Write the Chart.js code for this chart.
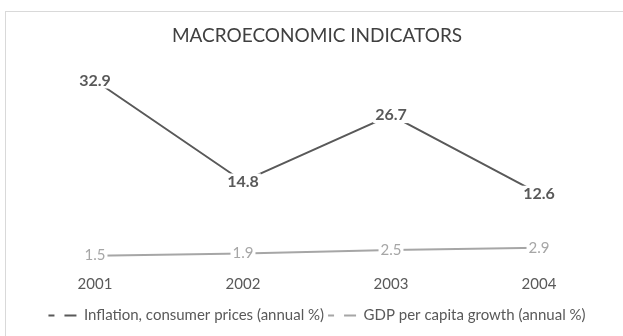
<!DOCTYPE html>
<html>
<head>
<meta charset="utf-8">
<title>Macroeconomic indicators</title>
<script src="https://cdn.jsdelivr.net/npm/chart.js@4/dist/chart.umd.min.js"></script>
<style>
    html, body { margin: 0; padding: 0; background: #fff; }
    #wrap { position: relative; width: 623px; height: 336px; }
</style>
</head>
<body>
<div id="wrap"><canvas id="macro-chart" width="623" height="336"></canvas></div>
<script>
const years = ['2001', '2002', '2003', '2004'];
const inflation = [32.9, 14.8, 26.7, 12.6];
const gdpGrowth = [1.5, 1.9, 2.5, 2.9];
const seriesNames = ['Inflation, consumer prices (annual %)', 'GDP per capita growth (annual %)'];

const FONT = 'Lato, "Open Sans", sans-serif';

// frame around the chart area, like the spreadsheet chart box
const framePlugin = {
    id: 'frame',
    beforeDraw: function (chart) {
        var ctx = chart.ctx;
        ctx.save();
        ctx.fillStyle = '#fff';
        ctx.fillRect(0, 0, chart.width, chart.height);
        ctx.strokeStyle = '#d9d9d9';
        ctx.lineWidth = 1;
        ctx.strokeRect(5.5, 11.5, chart.width + 20, chart.height + 20);
        ctx.restore();
    }
};

// value labels sitting on top of each point, on a white patch
const valueLabels = {
    id: 'valueLabels',
    afterDatasetsDraw: function (chart) {
        var ctx = chart.ctx;
        chart.data.datasets.forEach(function (ds, i) {
            var meta = chart.getDatasetMeta(i);
            ctx.save();
            ctx.font = ds.labelFont;
            ctx.textAlign = 'center';
            ctx.textBaseline = 'middle';
            meta.data.forEach(function (pt, j) {
                var text = ds.data[j].toFixed(1);
                var w = ctx.measureText(text).width;
                ctx.fillStyle = '#fff';
                ctx.fillRect(pt.x - w / 2 - 2, pt.y - 8, w + 4, 16);
                ctx.fillStyle = ds.labelColor;
                ctx.fillText(text, pt.x, pt.y);
            });
            ctx.restore();
        });
    }
};

function buildData() {
    return {
        labels: years,
        datasets: [{
            label: seriesNames[0],
            data: inflation,
            borderColor: '#595959',
            backgroundColor: '#595959',
            borderWidth: 2,
            pointRadius: 0,
            labelColor: '#595959',
            labelFont: 'bold 16px ' + FONT
        }, {
            label: seriesNames[1],
            data: gdpGrowth,
            borderColor: '#a6a6a6',
            backgroundColor: '#a6a6a6',
            borderWidth: 2,
            pointRadius: 0,
            labelColor: '#a6a6a6',
            labelFont: '15px ' + FONT
        }]
    };
}

const config = {
    type: 'line',
    data: buildData(),
    options: {
        responsive: false,
        animation: false,
        layout: { padding: { left: 21, right: 10, top: 0, bottom: 3 } },
        scales: {
            x: {
                offset: true,
                grid: { display: false, drawTicks: false },
                border: { display: false },
                ticks: { color: '#595959', font: { family: FONT, size: 15 }, padding: 11 }
            },
            y: {
                display: false,
                min: 0,
                max: 35
            }
        },
        plugins: {
            title: {
                display: true,
                text: 'MACROECONOMIC INDICATORS',
                color: '#404040',
                font: { family: FONT, size: 19, weight: 'normal' },
                padding: { top: 24, bottom: 22 }
            },
            legend: {
                position: 'bottom',
                labels: {
                    color: '#595959',
                    font: { family: FONT, size: 15 },
                    usePointStyle: true,
                    pointStyleWidth: 28,
                    padding: 4,
                    generateLabels: function (chart) {
                        return chart.data.datasets.map(function (ds, i) {
                            return {
                                text: ds.label,
                                fillStyle: ds.borderColor,
                                strokeStyle: ds.borderColor,
                                fontColor: '#595959',
                                lineWidth: 2,
                                lineDash: [6, 10, 12, 100],
                                pointStyle: 'line',
                                datasetIndex: i
                            };
                        });
                    }
                }
            },
            tooltip: { enabled: false }
        }
    },
    plugins: [framePlugin, valueLabels]
};

new Chart(document.getElementById('macro-chart'), config);
</script>
</body>
</html>
